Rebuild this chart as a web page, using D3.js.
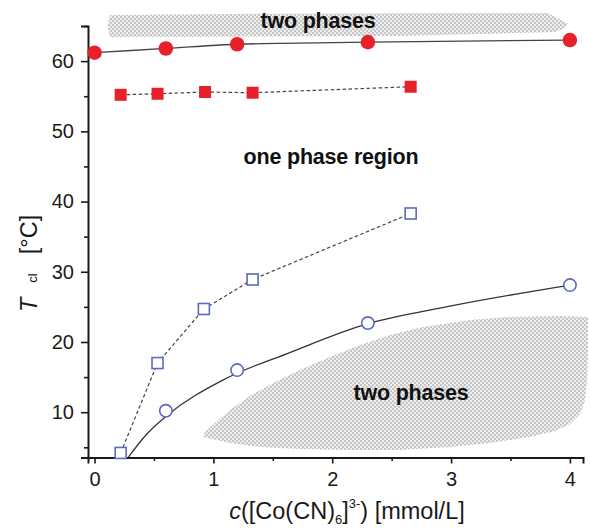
<!DOCTYPE html>
<html>
<head>
<meta charset="utf-8">
<script src="https://cdn.jsdelivr.net/npm/d3@7"></script>
<style>
  body { margin: 0; background: #fff; }
  svg text { font-family: "Liberation Sans", Arial, sans-serif; }
</style>
</head>
<body>
<div id="chart"></div>
<script>
// data
var cRedCircle = [0, 0.6, 1.2, 2.3, 4.0]
var tRedCircle = [61.2, 61.8, 62.4, 62.7, 63.0]

var cRedSquare = [0.22, 0.53, 0.93, 1.33, 2.66]
var tRedSquare = [55.2, 55.35, 55.6, 55.5, 56.35]

var cBlueSquare = [0.22, 0.53, 0.92, 1.33, 2.66]
var tBlueSquare = [4.2, 17.0, 24.7, 28.9, 38.3]

var cBlueCircle = [0.6, 1.2, 2.3, 4.0]
var tBlueCircle = [10.2, 16.0, 22.7, 28.1]

// fitted curve through the open circles
var cFit = [0.285, 0.44, 0.607, 1.083, 1.644, 2.3, 2.99, 4.0]
var tFit = [3.6, 6.9, 9.5, 14.6, 18.5, 22.6, 25.1, 28.1]

// shaded two-phase areas (outline in c, T)
var topArea = [[0.13, 66.57], [1.5, 66.75], [3.0, 66.85], [3.81, 66.85], [3.9, 66.1], [3.984, 65.28],
  [3.958, 64.71], [3.874, 64.14], [2.57, 63.57], [0.13, 63.43], [0.11, 65.0]]
var bottomArea = [[0.913, 6.47], [1.14, 5.61], [1.392, 5.05], [1.729, 4.76], [2.149, 4.62], [2.57, 4.62],
  [2.991, 5.05], [3.327, 5.61], [3.664, 6.47], [3.874, 7.32], [4.0, 8.32], [4.085, 9.74], [4.127, 11.74],
  [4.144, 14.59], [4.152, 18.86], [4.152, 23.56], [3.916, 23.7], [3.47, 23.56], [3.159, 23.13],
  [2.764, 22.13], [2.486, 20.99], [2.234, 19.57], [1.981, 17.86], [1.729, 16.01], [1.518, 14.3],
  [1.308, 12.31], [1.14, 10.31], [1.014, 8.46], [0.929, 7.18]]

var xMajor = [0, 1, 2, 3, 4]
var xMinor = [0.5, 1.5, 2.5, 3.5]
var yMajor = [10, 20, 30, 40, 50, 60]
var yMinor = [5, 15, 25, 35, 45, 55, 65]

var W = 590, H = 529
var svg = d3.select("#chart").append("svg")
  .attr("width", W)
  .attr("height", H)

var x = d3.scaleLinear().domain([-0.055, 4.11]).range([88, 583])
var y = d3.scaleLinear().domain([3.55, 65]).range([457.5, 26])

// hatch pattern
var pat = svg.append("defs").append("pattern")
  .attr("id", "hatch")
  .attr("width", 4).attr("height", 4)
  .attr("patternUnits", "userSpaceOnUse")
pat.append("rect").attr("width", 4).attr("height", 4).attr("fill", "#eeeeee")
pat.append("rect").attr("width", 2).attr("height", 2).attr("fill", "#c6c6c6")
pat.append("rect").attr("x", 2).attr("y", 2).attr("width", 2).attr("height", 2).attr("fill", "#c6c6c6")

var area = d3.line()
  .x(function(d){ return x(d[0]) })
  .y(function(d){ return y(d[1]) })
  .curve(d3.curveLinearClosed)

svg.append("path").attr("d", area(topArea)).attr("fill", "url(#hatch)")
svg.append("path").attr("d", area(bottomArea)).attr("fill", "url(#hatch)")

// axes
svg.append("g")
  .attr("transform", "translate(0," + y.range()[0] + ")")
  .call(d3.axisBottom(x).tickValues(xMajor).tickSize(6).tickPadding(8).tickFormat(d3.format("d")))
svg.append("g")
  .attr("transform", "translate(0," + y.range()[0] + ")")
  .call(d3.axisBottom(x).tickValues(xMinor).tickSize(3.5).tickFormat(""))
  .select(".domain").remove()

svg.append("g")
  .attr("transform", "translate(" + x.range()[0] + ",0)")
  .call(d3.axisLeft(y).tickValues(yMajor).tickSize(7).tickPadding(7))
svg.append("g")
  .attr("transform", "translate(" + x.range()[0] + ",0)")
  .call(d3.axisLeft(y).tickValues(yMinor).tickSize(4).tickFormat(""))
  .select(".domain").remove()

svg.selectAll(".domain").attr("stroke", "#1a1a1a").attr("stroke-width", 2)
svg.selectAll(".tick line").attr("stroke", "#1a1a1a").attr("stroke-width", 1.6)
svg.selectAll(".tick text").attr("font-size", 20).attr("fill", "#1a1a1a")
  .style("font-family", "'Liberation Sans', Arial, sans-serif")

// lines
function pts(cs, ts){ return cs.map(function(c, i){ return [c, ts[i]] }) }
var line = d3.line()
  .x(function(d){ return x(d[0]) })
  .y(function(d){ return y(d[1]) })

svg.append("path")
  .attr("d", line.curve(d3.curveMonotoneX)(pts(cRedCircle, tRedCircle)))
  .attr("fill", "none").attr("stroke", "#444").attr("stroke-width", 1.3)

svg.append("path")
  .attr("d", line.curve(d3.curveLinear)(pts(cRedSquare, tRedSquare)))
  .attr("fill", "none").attr("stroke", "#444").attr("stroke-width", 1.2)
  .attr("stroke-dasharray", "3.5,2.5")

svg.append("path")
  .attr("d", line.curve(d3.curveLinear)(pts(cBlueSquare, tBlueSquare)))
  .attr("fill", "none").attr("stroke", "#444").attr("stroke-width", 1.2)
  .attr("stroke-dasharray", "3.5,2.5")

svg.append("path")
  .attr("d", line.curve(d3.curveMonotoneX)(pts(cFit, tFit)))
  .attr("fill", "none").attr("stroke", "#333").attr("stroke-width", 1.3)

// markers
var red = "#e8202a", blue = "#5a6cc0"

svg.selectAll(".rc").data(pts(cRedCircle, tRedCircle)).enter().append("circle")
  .attr("cx", function(d){ return x(d[0]) })
  .attr("cy", function(d){ return y(d[1]) })
  .attr("r", 7.3)
  .attr("fill", red)

svg.selectAll(".rs").data(pts(cRedSquare, tRedSquare)).enter().append("rect")
  .attr("x", function(d){ return x(d[0]) - 6 })
  .attr("y", function(d){ return y(d[1]) - 6 })
  .attr("width", 12).attr("height", 12)
  .attr("fill", red)

svg.selectAll(".bs").data(pts(cBlueSquare, tBlueSquare)).enter().append("rect")
  .attr("x", function(d){ return x(d[0]) - 5.5 })
  .attr("y", function(d){ return y(d[1]) - 5.5 })
  .attr("width", 11).attr("height", 11)
  .attr("fill", "#fff").attr("stroke", blue).attr("stroke-width", 1.6)

svg.selectAll(".bc").data(pts(cBlueCircle, tBlueCircle)).enter().append("circle")
  .attr("cx", function(d){ return x(d[0]) })
  .attr("cy", function(d){ return y(d[1]) })
  .attr("r", 6.2)
  .attr("fill", "#fff").attr("stroke", blue).attr("stroke-width", 1.6)

// region labels
function label(tx, ty, s){
  svg.append("text")
    .attr("x", tx).attr("y", ty)
    .attr("text-anchor", "middle")
    .attr("font-size", 21.5)
    .attr("font-weight", "bold")
    .attr("letter-spacing", -0.2)
    .attr("fill", "#111")
    .text(s)
}
label(318, 28, "two phases")
label(331, 164, "one phase region")
label(411, 400, "two phases")

// axis titles
var xt = svg.append("text")
  .attr("x", 347).attr("y", 519)
  .attr("text-anchor", "middle")
  .attr("font-size", 23.5)
  .attr("fill", "#1a1a1a")
xt.append("tspan").attr("font-style", "italic").text("c")
xt.append("tspan").text("([Co(CN)")
xt.append("tspan").attr("font-size", 13).attr("dy", 4.5).text("6")
xt.append("tspan").attr("dy", -4.5).text("]")
xt.append("tspan").attr("font-size", 13).attr("dy", -11).text("3-")
xt.append("tspan").attr("dy", 11).text(") [mmol/L]")

var yt = svg.append("text")
  .attr("transform", "translate(37,312) rotate(-90)")
  .attr("text-anchor", "start")
  .attr("font-size", 23.5)
  .attr("fill", "#1a1a1a")
yt.append("tspan").attr("font-style", "italic").text("T")
yt.append("tspan").attr("font-size", 13).attr("dx", 15).text("cl")
yt.append("tspan").attr("dx", 19).text("[°C]")
</script>
</body>
</html>
